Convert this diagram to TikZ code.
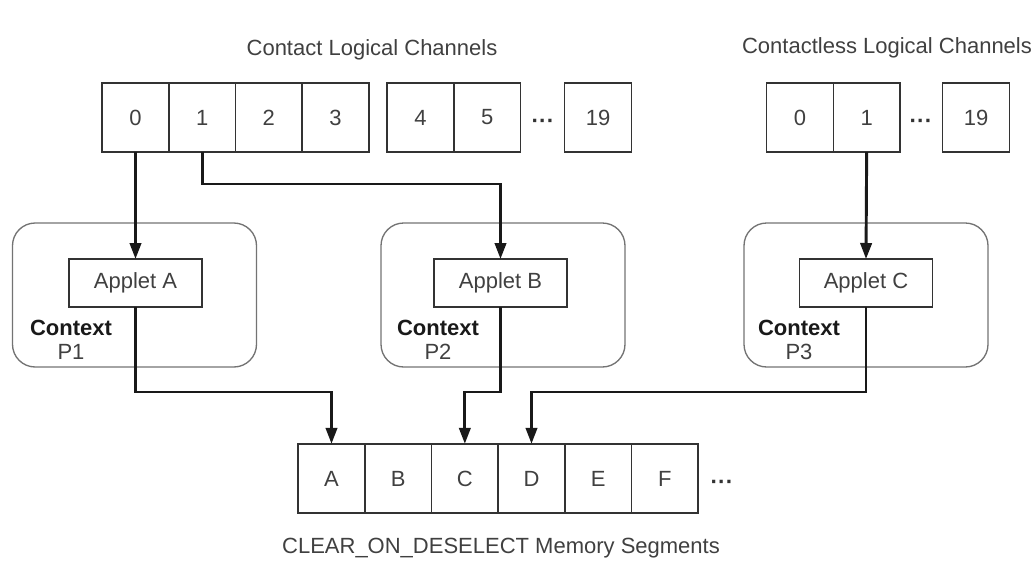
\documentclass[tikz,border=0pt]{standalone}
\usepackage{fontspec}
\setmainfont{Liberation Sans}
\usetikzlibrary{arrows.meta,positioning}
\tikzset{
    %Define standard arrow tip
    >={Triangle[length=12pt,width=8.5pt]},
    %Define style for channel and segment cells
    celle/.style={
           rectangle,
           draw=black!80, line width=1.2pt,
           minimum width=50pt,
           minimum height=52pt,
           inner sep=0pt,
           outer sep=0pt,
           text=black!75,
           font=\fontsize{16.5}{19}\selectfont},
    %Define style for context boxes
    ctx/.style={
           rectangle,
           rounded corners=17pt,
           draw=black!55, line width=1pt,
           minimum width=183pt,
           minimum height=108pt},
    %Define style for applet boxes
    applet/.style={
           rectangle,
           draw=black!80, line width=1.2pt,
           minimum width=100pt,
           minimum height=36pt,
           outer sep=0pt,
           text=black!75,
           font=\fontsize{16.5}{19}\selectfont},
    %Define style for plain texts
    tekst/.style={
           text=black!75,
           inner sep=0pt,
           font=\fontsize{16.5}{18}\selectfont},
    prikker/.style={
           text=black!80,
           font=\fontsize{17}{19}\selectfont\bfseries},
    % Define arrow style
    pil/.style={
           ->,
           line width=2.2pt,
           draw=black!90}
}
\begin{document}
\begin{tikzpicture}[node distance=0pt, x=0.75pt, y=-0.75pt]
         \useasboundingbox (0,0) rectangle (1034,561);
         %contact channels
         \node[tekst] (tcontact) at (372,50) {Contact Logical Channels};
         \node[celle] (c0) at (135.5,117.5) {0};
         \node[celle, right=of c0] (c1) {1};
         \node[celle, right=of c1] (c2) {2};
         \node[celle, right=of c2] (c3) {3};
         \node[celle] (c4) at (420.5,117.5) {4};
         \node[celle, right=of c4] (c5) {5};
         \node[prikker] (cdots) at (543,124) {···};
         \node[celle] (c19) at (598,117.5) {19};
         %contactless channels
         \node[tekst] (tcontactless) at (887,48) {Contactless Logical Channels};
         \node[celle] (cl0) at (800,117.5) {0};
         \node[celle, right=of cl0] (cl1) {1};
         \node[prikker] (cldots) at (921,124) {···};
         \node[celle] (cl19) at (976,117.5) {19};
         %contexts with applets
         \node[ctx] (ctxA) at (134.5,295) {};
         \node[ctx] (ctxB) at (503,295) {};
         \node[ctx] (ctxC) at (866,295) {};
         \node[applet] (appA) at (135.5,283) {Applet A};
         \node[applet] (appB) at (500.5,283) {Applet B};
         \node[applet] (appC) at (866,283) {Applet C};
         \node[tekst, align=center] (lblA) at (71,340) {\textbf{\color{black!90}Context}\\P1};
         \node[tekst, align=center] (lblB) at (438,340) {\textbf{\color{black!90}Context}\\P2};
         \node[tekst, align=center] (lblC) at (799,340) {\textbf{\color{black!90}Context}\\P3};
         %memory segments
         \node[celle] (mA) at (331.5,478.5) {A};
         \node[celle, right=of mA] (mB) {B};
         \node[celle, right=of mB] (mC) {C};
         \node[celle, right=of mC] (mD) {D};
         \node[celle, right=of mD] (mE) {E};
         \node[celle, right=of mE] (mF) {F};
         \node[prikker] (mdots) at (722,485) {···};
         \node[tekst] (tmem) at (501,548) {CLEAR\_ON\_DESELECT Memory Segments};
         %connectors
         \coordinate (knekk) at (0,184);
         \coordinate (bunn) at (0,392);
         \draw[pil] (c0.south) -- (appA.north);
         \draw[pil] (c1.south) -- (c1.south |- knekk) -| (appB.north);
         \draw[pil] (cl1.south) -- (appC.north);
         \draw[pil] (appA.south) -- (appA.south |- bunn) -| (mA.north);
         \draw[pil] (appB.south) -- (appB.south |- bunn) -| (mC.north);
         \draw[pil] (appC.south) -- (appC.south |- bunn) -| (mD.north);
\end{tikzpicture}
\end{document}
